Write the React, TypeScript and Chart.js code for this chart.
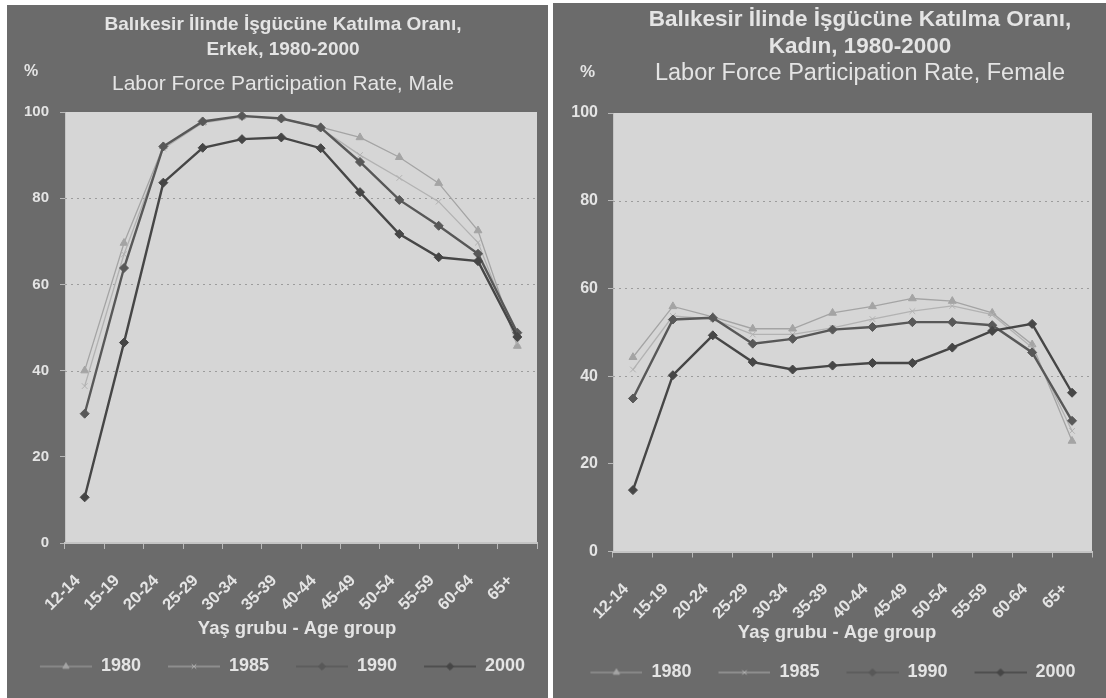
import React, { useEffect, useRef } from 'react';
import { Chart, registerables } from 'chart.js';
import { drawPoint } from 'chart.js/helpers';

Chart.register(...registerables);

// ---------- data ----------
const ageGroups = ['12-14', '15-19', '20-24', '25-29', '30-34', '35-39', '40-44', '45-49', '50-54', '55-59', '60-64', '65+'];
const yearLabels = ['1980', '1985', '1990', '2000'];
const yTickStep = 20;
const yMin = 0;
const yMax = 100;
const gridValues = [40, 60, 80];

const male1980 = [40, 69.6, 92, 97.6, 99, 98.5, 96.5, 94.1, 89.5, 83.5, 72.5, 45.7];
const male1985 = [36.4, 67, 91.5, 97.5, 98.8, 98.5, 96.2, 90, 84.7, 79.2, 69.7, 46.5];
const male1990 = [30, 63.8, 92, 97.8, 99.1, 98.5, 96.4, 88.4, 79.6, 73.6, 67.1, 48.8];
const male2000 = [10.6, 46.5, 83.6, 91.7, 93.7, 94.1, 91.6, 81.4, 71.7, 66.3, 65.4, 47.8];

const female1980 = [44.3, 55.9, 53.5, 50.8, 50.8, 54.4, 55.9, 57.7, 57.1, 54.4, 47.2, 25.2];
const female1985 = [41.5, 53.7, 53, 49.5, 49.5, 51, 53, 54.8, 56, 54, 46.5, 27.5];
const female1990 = [34.9, 52.9, 53.3, 47.4, 48.5, 50.6, 51.2, 52.3, 52.3, 51.6, 45.4, 29.8];
const female2000 = [14, 40.2, 49.3, 43.2, 41.5, 42.4, 43, 43, 46.5, 50.3, 51.9, 36.2];

const maleTitle = ['Balıkesir İlinde İşgücüne Katılma Oranı,', 'Erkek, 1980-2000'];
const maleSubtitle = 'Labor Force Participation Rate, Male';
const femaleTitle = ['Balıkesir İlinde İşgücüne Katılma Oranı,', 'Kadın, 1980-2000'];
const femaleSubtitle = 'Labor Force Participation Rate, Female';
const xAxisTitle = 'Yaş grubu - Age group';
const yUnit = '%';

// ---------- styles ----------
const FONT = "'Liberation Sans', Arial, Helvetica, sans-serif";
const PANEL_BG = '#6b6b6b';
const PLOT_BG = '#d6d6d6';
const TEXT = '#e4e4e4';
const GRID = '#9c9c9c';
const LEGEND_IMG_W = 73;
const LEGEND_LINE_W = 52;

const seriesStyles = [
  { color: '#a4a4a4', pointStyle: 'triangle', lineWidth: 1.3, radius: 4.5, order: 4 },
  { color: '#b2b2b2', pointStyle: 'crossRot', lineWidth: 1.3, radius: 4, order: 3 },
  { color: '#585858', pointStyle: 'rectRot', lineWidth: 2.4, radius: 4.5, order: 2 },
  { color: '#464646', pointStyle: 'rectRot', lineWidth: 2.4, radius: 4.5, order: 1 },
];

function legendImage(style: any) {
  const c = document.createElement('canvas');
  c.width = LEGEND_IMG_W;
  c.height = 14;
  const ctx = c.getContext('2d')!;
  const x0 = LEGEND_IMG_W - LEGEND_LINE_W;
  ctx.strokeStyle = style.color;
  ctx.fillStyle = style.color;
  ctx.lineWidth = Math.max(1, style.lineWidth * 0.7);
  ctx.beginPath();
  ctx.moveTo(x0, 7);
  ctx.lineTo(LEGEND_IMG_W, 7);
  ctx.stroke();
  ctx.lineWidth = 1;
  drawPoint(ctx, { pointStyle: style.pointStyle, radius: style.radius * 0.8, borderWidth: 1, rotation: 0 } as any, x0 + LEGEND_LINE_W / 2, 7);
  return c;
}

type PanelCfg = {
  left: number; top: number; width: number; height: number;
  title: string[]; subtitle: string;
  series: number[][];
  titleSize: number; subSize: number; titleX: number; titleYs: number[];
  padTop: number;
  yWidth: number; yFont: number; yPad: number;
  padRight: number; padBottom: number;
  xHeight: number; axisTitleX: number; axisTitleY: number;
  unitX: number; unitY: number;
};

const maleCfg: PanelCfg = {
  left: 7, top: 5, width: 541, height: 693,
  title: maleTitle, subtitle: maleSubtitle,
  series: [male1980, male1985, male1990, male2000],
  titleSize: 19, subSize: 21, titleX: 276, titleYs: [20, 45, 79],
  padTop: 107,
  yWidth: 58, yFont: 15, yPad: 11,
  padRight: 11, padBottom: 12.5,
  xHeight: 108.5, axisTitleX: 290, axisTitleY: 624,
  unitX: 17, unitY: 67,
};

const femaleCfg: PanelCfg = {
  left: 553, top: 3, width: 553, height: 695,
  title: femaleTitle, subtitle: femaleSubtitle,
  series: [female1980, female1985, female1990, female2000],
  titleSize: 22.5, subSize: 23.5, titleX: 307, titleYs: [17, 44, 71],
  padTop: 110,
  yWidth: 60, yFont: 16, yPad: 10,
  padRight: 14, padBottom: 6.5,
  xHeight: 106, axisTitleX: 284, axisTitleY: 630,
  unitX: 27, unitY: 69,
};

const plotBgPlugin = {
  id: 'plotBg',
  beforeDraw(chart: any) {
    const { ctx, chartArea } = chart;
    ctx.save();
    ctx.fillStyle = PLOT_BG;
    ctx.fillRect(chartArea.left, chartArea.top, chartArea.right - chartArea.left, chartArea.bottom - chartArea.top);
    ctx.restore();
  },
  beforeDatasetsDraw(chart: any) {
    const { ctx, chartArea } = chart;
    const y = chart.scales.y;
    ctx.save();
    ctx.strokeStyle = GRID;
    ctx.lineWidth = 1;
    ctx.setLineDash([2, 4]);
    gridValues.forEach((v) => {
      const py = Math.round(y.getPixelForValue(v)) + 0.5;
      ctx.beginPath();
      ctx.moveTo(chartArea.left, py);
      ctx.lineTo(chartArea.right, py);
      ctx.stroke();
    });
    ctx.restore();
  },
};

function Panel({ cfg }: { cfg: PanelCfg }) {
  const ref = useRef<HTMLCanvasElement>(null);
  useEffect(() => {
    const images = seriesStyles.map(legendImage);
    const textPlugin = {
      id: 'panelTexts',
      afterDraw(chart: any) {
        const ctx = chart.ctx;
        ctx.save();
        ctx.fillStyle = TEXT;
        ctx.textBaseline = 'middle';
        ctx.textAlign = 'center';
        ctx.font = `bold ${cfg.titleSize}px ${FONT}`;
        cfg.title.forEach((t, i) => ctx.fillText(t, cfg.titleX, cfg.titleYs[i]));
        ctx.font = `${cfg.subSize}px ${FONT}`;
        ctx.fillText(cfg.subtitle, cfg.titleX, cfg.titleYs[2]);
        ctx.font = `bold 18.5px ${FONT}`;
        ctx.fillText(xAxisTitle, cfg.axisTitleX, cfg.axisTitleY);
        ctx.textAlign = 'left';
        ctx.font = `bold ${cfg.yFont + 1}px ${FONT}`;
        ctx.fillText(yUnit, cfg.unitX, cfg.unitY);
        ctx.restore();
      },
    };
    const chart = new Chart(ref.current!, {
      type: 'line',
      data: {
        labels: ageGroups,
        datasets: cfg.series.map((values, i) => ({
          label: yearLabels[i],
          data: values,
          borderColor: seriesStyles[i].color,
          backgroundColor: seriesStyles[i].color,
          pointBackgroundColor: seriesStyles[i].color,
          pointBorderColor: seriesStyles[i].color,
          borderWidth: seriesStyles[i].lineWidth,
          pointStyle: seriesStyles[i].pointStyle as any,
          pointRadius: seriesStyles[i].radius,
          pointBorderWidth: 1,
          order: seriesStyles[i].order,
          tension: 0,
          fill: false,
        })),
      },
      options: {
        responsive: true,
        maintainAspectRatio: false,
        animation: false,
        layout: { padding: { left: 0, right: cfg.padRight, top: cfg.padTop, bottom: cfg.padBottom } },
        plugins: {
          title: { display: false },
          legend: {
            position: 'bottom',
            maxWidth: cfg.width,
            labels: {
              usePointStyle: true,
              pointStyleWidth: LEGEND_IMG_W,
              padding: 6,
              color: TEXT,
              font: { family: FONT, size: 18, weight: 'bold' },
              generateLabels: (ch: any) =>
                ch.data.datasets.map((ds: any, i: number) => ({
                  text: ds.label,
                  fontColor: TEXT,
                  pointStyle: images[i],
                  datasetIndex: i,
                  hidden: false,
                  lineWidth: 0,
                  strokeStyle: 'transparent',
                  fillStyle: 'transparent',
                })),
            },
          },
          tooltip: { enabled: false },
        },
        scales: {
          x: {
            offset: true,
            grid: { offset: true, drawOnChartArea: false, tickLength: 6, color: '#b8b8b8' },
            border: { color: '#c4c4c4', width: 2 },
            ticks: {
              color: TEXT,
              font: { family: FONT, size: 16.5, weight: 'bold' },
              minRotation: 45,
              maxRotation: 45,
              autoSkip: false,
              padding: 22,
              labelOffset: -7,
            },
            afterFit: (s: any) => {
              s.height = cfg.xHeight;
              s.paddingLeft = 0;
              s.paddingRight = 0;
            },
          },
          y: {
            min: yMin,
            max: yMax,
            ticks: {
              stepSize: yTickStep,
              color: TEXT,
              font: { family: FONT, size: cfg.yFont, weight: 'bold' },
              padding: cfg.yPad,
            },
            grid: { drawOnChartArea: false, tickLength: 5, color: '#b8b8b8' },
            border: { color: '#c4c4c4', width: 1 },
            afterFit: (s: any) => { s.width = cfg.yWidth; },
          },
        },
      } as any,
      plugins: [plotBgPlugin, textPlugin],
    });
    return () => chart.destroy();
  }, []);
  return (
    <div
      style={{
        position: 'absolute',
        left: cfg.left,
        top: cfg.top,
        width: cfg.width,
        height: cfg.height,
        background: PANEL_BG,
      }}
    >
      <canvas ref={ref} />
    </div>
  );
}

export default function App() {
  return (
    <div style={{ position: 'absolute', left: 0, top: 0, width: 1106, height: 698, background: '#ffffff', overflow: 'hidden' }}>
      <Panel cfg={maleCfg} />
      <Panel cfg={femaleCfg} />
    </div>
  );
}
